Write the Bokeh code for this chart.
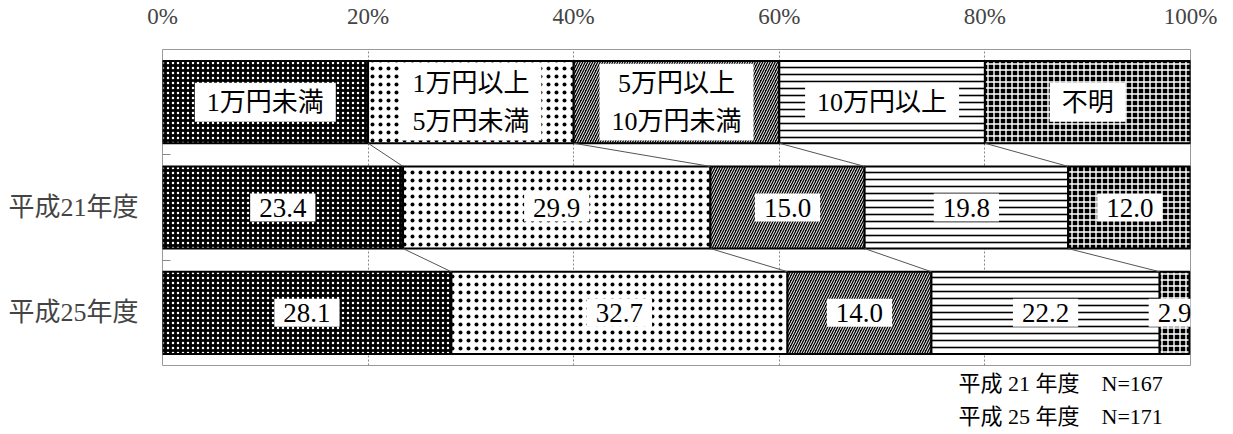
import numpy as np
from bokeh.plotting import figure
from bokeh.models import ColumnDataSource, FixedTicker, Range1d, Title
from bokeh.core.properties import value
from bokeh.embed import file_html
from bokeh.resources import INLINE

# ---- data ----
categories = ["1万円未満", "1万円以上\n5万円未満", "5万円以上\n10万円未満", "10万円以上", "不明"]
legend_share = [20, 20, 20, 20, 20]
years = ["平成21年度", "平成25年度"]
h21 = [23.4, 29.9, 15.0, 19.8, 12.0]
h25 = [28.1, 32.7, 14.0, 22.2, 2.9]
x_ticks = [0, 20, 40, 60, 80, 100]
x_tick_labels = ["0%", "20%", "40%", "60%", "80%", "100%"]
notes = ["平成 21 年度\u3000N=167", "平成 25 年度\u3000N=171"]

# styles per category
fills = ["black", "white", "black", "white", "black"]
hatch_patterns = ["dot", "dot", "right_diagonal_line", "horizontal_line", "cross"]
hatch_colors = ["white", "black", "white", "black", "white"]
hatch_scales = [5, 8, 5, 7, 6]
hatch_weights = [1.2, 0.4, 1.0, 1.6, 1.4]

row_y = [2.5, 1.5, 0.5]
rows = [legend_share, h21, h25]
bar_h = 0.78

FONT_STR = "'Liberation Serif', 'Noto Sans CJK JP'"
FONT = value(FONT_STR)

p = figure(width=1233, height=434, output_backend="svg", toolbar_location=None,
           x_range=Range1d(0, 100), y_range=Range1d(0, 3),
           x_axis_location="above",
           min_border_left=162, min_border_right=43, min_border_bottom=69, min_border_top=45)

# bars
L, R, Y, F, HP, HC, HS, HW = [], [], [], [], [], [], [], []
for vals, y in zip(rows, row_y):
    c = np.concatenate([[0], np.cumsum(vals)])
    for i in range(len(vals)):
        L.append(c[i]); R.append(c[i + 1]); Y.append(y)
        F.append(fills[i]); HP.append(hatch_patterns[i]); HC.append(hatch_colors[i])
        HS.append(hatch_scales[i]); HW.append(hatch_weights[i])
src = ColumnDataSource(dict(left=L, right=R, y=Y, fill=F, hp=HP, hc=HC, hs=HS, hw=HW))
p.hbar(y="y", left="left", right="right", height=bar_h, source=src,
       fill_color="fill", hatch_pattern="hp", hatch_color="hc", hatch_scale="hs",
       hatch_weight="hw", line_color="black", line_width=2)

# connector lines between rows
x0s, y0s, x1s, y1s = [], [], [], []
for (va, ya_), (vb, yb) in zip(zip(rows[:-1], row_y[:-1]), zip(rows[1:], row_y[1:])):
    ca = np.cumsum(va)[:-1]
    cb = np.cumsum(vb)[:-1]
    for a, b in zip(ca, cb):
        x0s.append(a); y0s.append(ya_ - bar_h / 2); x1s.append(b); y1s.append(yb + bar_h / 2)
p.segment(x0=x0s, y0=y0s, x1=x1s, y1=y1s, line_color="#555555", line_width=1)

# labels: legend row
cl = np.concatenate([[0], np.cumsum(legend_share)])
p.text(x=list((cl[:-1] + cl[1:]) / 2), y=[row_y[0]] * 5, text=categories,
       text_align="center", text_baseline="middle", text_font=FONT,
       text_font_size="26px", text_line_height=1.3, text_color="black",
       background_fill_color="white", padding=dict(x=12, y=5))

# labels: data rows
for vals, y in zip(rows[1:], row_y[1:]):
    c = np.concatenate([[0], np.cumsum(vals)])
    p.text(x=list((c[:-1] + c[1:]) / 2), y=[y] * len(vals), text=[f"{v:.1f}" for v in vals],
           text_align="center", text_baseline="middle", text_font=FONT,
           text_font_size="27px", text_color="black",
           background_fill_color="white", padding=dict(x=9, y=5))

# notes below the frame
for t in notes:
    p.add_layout(Title(text=t, align="left", offset=796, text_font=FONT_STR,
                       text_font_size="22px", text_font_style="normal",
                       text_color="black", standoff=6), "below")

# x axis (top)
xa = p.xaxis[0]
xa.ticker = FixedTicker(ticks=x_ticks)
xa.major_label_overrides = {t: l for t, l in zip(x_ticks, x_tick_labels)}
xa.major_label_text_font = FONT_STR
xa.major_label_text_font_size = "23px"
xa.axis_line_color = None
xa.major_tick_line_color = None
xa.minor_tick_line_color = None
xa.major_label_standoff = 15

# y axis
yax = p.yaxis[0]
yax.ticker = FixedTicker(ticks=[0.5, 1.5], minor_ticks=[1, 2])
yax.major_label_overrides = {1.5: years[0], 0.5: years[1]}
yax.major_label_text_font = FONT_STR
yax.major_label_text_font_size = "26px"
yax.major_tick_in = 0
yax.major_tick_out = 0
yax.minor_tick_in = 8
yax.minor_tick_out = 0
yax.minor_tick_line_color = "#888888"
yax.axis_line_color = None
yax.major_label_standoff = 24

# grid
p.xgrid.ticker = FixedTicker(ticks=[20, 40, 60, 80])
p.xgrid.grid_line_color = "#888888"
p.xgrid.grid_line_dash = "2 2"
p.ygrid.grid_line_color = None
p.outline_line_color = "#999999"
p.outline_line_width = 1
p.background_fill_color = "white"
p.border_fill_color = "white"

open("out.html", "w").write(file_html(p, INLINE))
